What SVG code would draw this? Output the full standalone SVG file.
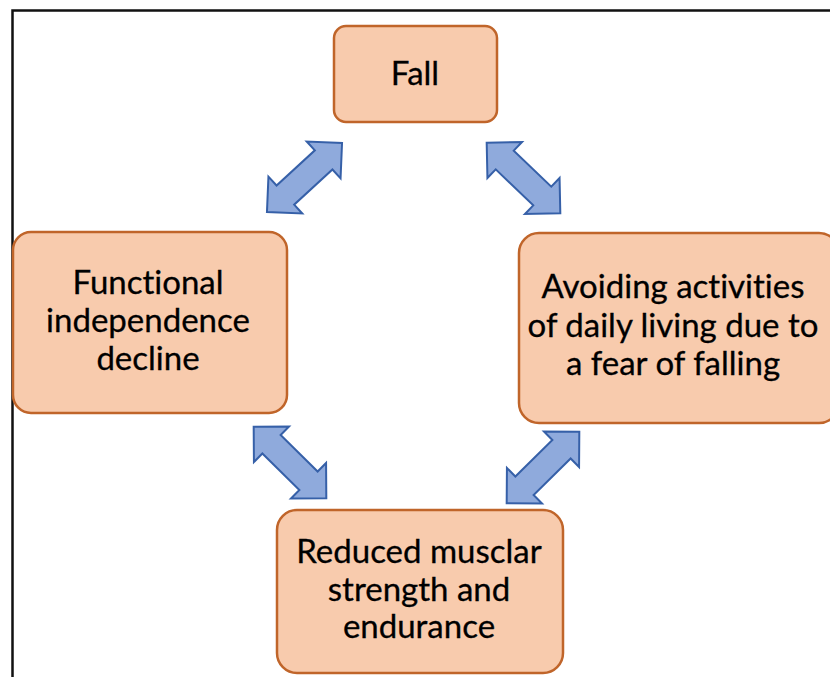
<svg xmlns="http://www.w3.org/2000/svg" width="830" height="677" viewBox="0 0 830 677">
<defs>
<style>
.box{fill:#F8CBAD;stroke:#C0652A;stroke-width:2.5}
.t{font-family:Lato,"Open Sans","Liberation Sans",sans-serif;font-size:33px;fill:#000;stroke:#000;stroke-width:0.3;text-anchor:middle;font-variant-ligatures:none}
.arr{fill:#8FAADC;stroke:#3660A8;stroke-width:2;stroke-linejoin:miter}
</style>
<path id="dbl" d="M-51,0 L-26,-25 L-26,-13 L26,-13 L26,-25 L51,0 L26,25 L26,13 L-26,13 L-26,25 Z"/>
</defs>
<rect width="830" height="677" fill="#fff"/>
<path d="M12.5,677 L12.5,10.5 L830,10.5" fill="none" stroke="#111" stroke-width="2.5"/>
<g id="connectors">
<use href="#dbl" class="arr" transform="translate(304.5,177.5) rotate(-42.6)"/>
<use href="#dbl" class="arr" transform="translate(523.5,178) rotate(43.8)"/>
<use href="#dbl" class="arr" transform="translate(290,462.5) rotate(44.6)"/>
<use href="#dbl" class="arr" transform="translate(543,467.5) rotate(-44.6)"/>
</g>
<g id="fall">
<rect class="box" x="334" y="26" width="163" height="96" rx="12"/>
<text class="t" x="415" y="85">Fall</text>
</g>
<g id="functional">
<rect class="box" x="13" y="232" width="274" height="181" rx="18"/>
<text class="t" x="148" y="294">Functional</text>
<text class="t" x="148" y="332">independence</text>
<text class="t" x="148" y="370">decline</text>
</g>
<g id="avoiding">
<rect class="box" x="519" y="233" width="320" height="190" rx="20"/>
<text class="t" x="673" y="298">Avoiding activities</text>
<text class="t" x="673" y="337">of daily living due to</text>
<text class="t" x="673" y="375">a fear of falling</text>
</g>
<g id="reduced">
<rect class="box" x="277" y="510" width="286" height="163" rx="20"/>
<text class="t" x="419" y="563">Reduced musclar</text>
<text class="t" x="419" y="601">strength and</text>
<text class="t" x="419" y="638">endurance</text>
</g>
</svg>
